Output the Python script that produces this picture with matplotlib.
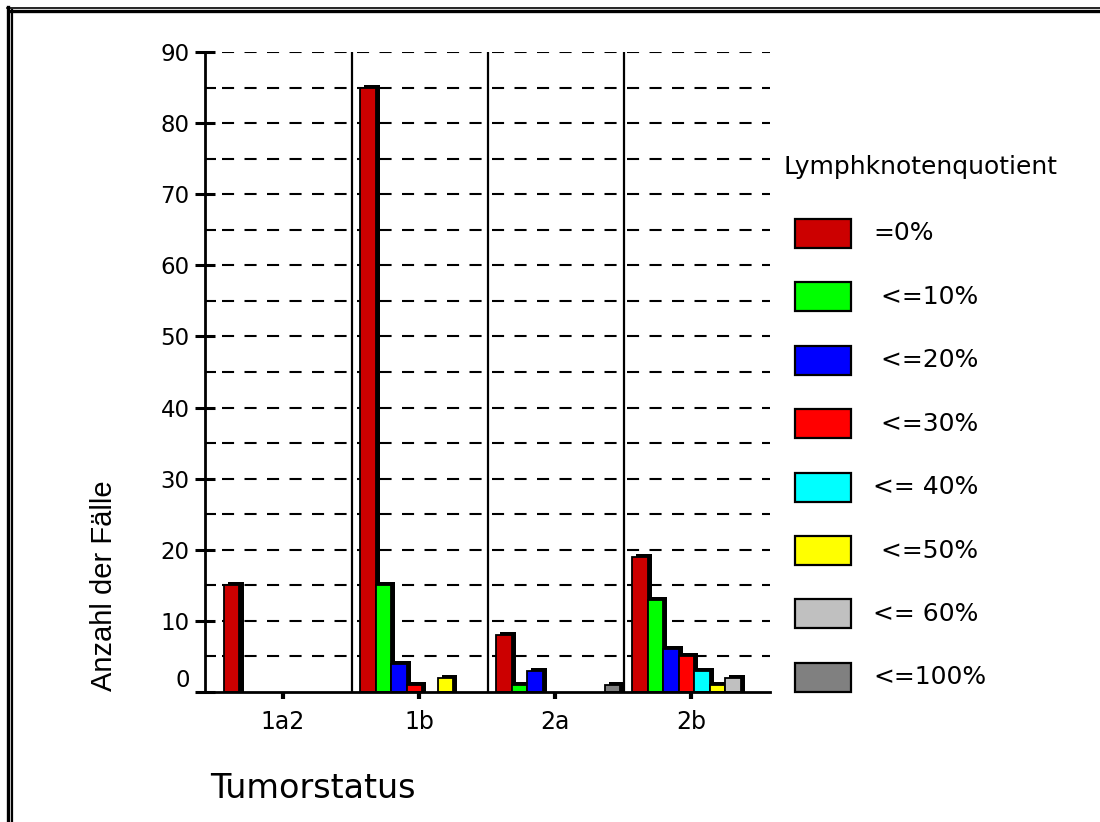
import matplotlib
matplotlib.use("Agg")
import matplotlib.pyplot as plt
from matplotlib.lines import Line2D
from matplotlib.patches import Rectangle
import numpy as np

# ---------------- data ----------------
categories = ["1a2", "1b", "2a", "2b"]
series_labels = ["=0%", " <=10%", " <=20%", " <=30%", "<= 40%", " <=50%", "<= 60%", "<=100%"]
series_colors = ["#CC0000", "#00FF00", "#0000FF", "#FF0000", "#00FFFF", "#FFFF00", "#C0C0C0", "#808080"]
v_0 = [15, 85, 8, 19]
v_10 = [0, 15, 1, 13]
v_20 = [0, 4, 3, 6]
v_30 = [0, 1, 0, 5]
v_40 = [0, 0, 0, 3]
v_50 = [0, 2, 0, 1]
v_60 = [0, 0, 0, 2]
v_100 = [0, 0, 1, 0]
series_values = [v_0, v_10, v_20, v_30, v_40, v_50, v_60, v_100]
yticks = [0, 10, 20, 30, 40, 50, 60, 70, 80, 90]

W, H = 1100, 822
fig = plt.figure(figsize=(11, 8.22), dpi=100)
fig.patch.set_facecolor("white")

ax = fig.add_axes([205 / W, (H - 692) / H, 565 / W, 640 / H])
ax.set_xlim(-0.0735, 4.08)
ax.set_ylim(0, 90)

# grid (dashed) every 5
for yv in np.arange(5, 91, 5):
    ax.axhline(yv, xmin=0.03, xmax=1, color="black", lw=1.5,
               dashes=(5.8, 5.0), zorder=1)

# group separators
for i in range(1, len(categories)):
    ax.axvline(i + 0.01, color="black", lw=1.6, zorder=1)

# bars with 3D-ish shadow
pitch = 0.114
off = 0.066
dx = 0.03
dy = 0.42
x0 = np.arange(len(categories))
for j, (vals, col) in enumerate(zip(series_values, series_colors)):
    vals = np.array(vals, dtype=float)
    xs = x0 + off + j * pitch
    sh = np.where(vals > 0, vals + dy, 0)
    ax.bar(xs + dx, sh, width=pitch, align="edge", color="black",
           linewidth=0, zorder=2 + 2 * j)
    ax.bar(xs, vals, width=pitch, align="edge", color=col,
           edgecolor=np.where(vals > 0, "black", "none").tolist(),
           linewidth=1.3, zorder=3 + 2 * j)

# spines
for s in ["top", "right"]:
    ax.spines[s].set_visible(False)
ax.spines["left"].set_linewidth(2)
ax.spines["bottom"].set_linewidth(2)
ax.spines["left"].set_zorder(30)
ax.spines["bottom"].set_zorder(30)

# ticks
ax.set_yticks(yticks)
ax.set_yticklabels([str(t) if t != 0 else "" for t in yticks],
                   fontsize=16.5, family="DejaVu Sans")
ax.set_yticks(np.arange(5, 90, 10), minor=True)
ax.tick_params(axis="y", which="major", direction="inout", length=14,
               width=2.2, pad=4)
ax.tick_params(axis="y", which="minor", direction="in", length=8, width=1.5)
ax.annotate(str(yticks[0]), xy=(0, 0), xycoords=("axes fraction", "data"),
            xytext=(-15, 12), textcoords="offset pixels", ha="right",
            va="center", fontsize=16.5, family="DejaVu Sans")

ax.set_xticks(x0 + 0.5)
ax.set_xticklabels(categories, fontsize=17, family="DejaVu Sans")
ax.tick_params(axis="x", which="major", direction="out", length=5,
               width=3, pad=8)

# axis titles
fig.text(104 / W, 1 - 586 / H, "Anzahl der Fälle", rotation=90,
         ha="center", va="center", fontsize=21,
         family=["Liberation Sans", "DejaVu Sans"])
fig.text(210 / W, 1 - 788 / H, "Tumorstatus", ha="left", va="center",
         fontsize=24, family="DejaVu Sans")

# legend (manual, figure coordinates)
fig.text(783 / W, 1 - 167 / H, "Lymphknotenquotient", ha="left", va="center",
         fontsize=18, family="DejaVu Sans")
for k, (lab, col) in enumerate(zip(series_labels, series_colors)):
    top = 219 + 63.4 * k
    fig.patches.append(Rectangle((795 / W, 1 - (top + 29) / H), 56 / W, 29 / H,
                                 transform=fig.transFigure, facecolor=col,
                                 edgecolor="black", linewidth=1.6))
    fig.text(873 / W, 1 - (top + 14.5) / H, lab, ha="left", va="center",
             fontsize=18, family="DejaVu Sans")

# double frame (top and left visible)
def fx(p):
    return p / W

def fy(p):
    return 1 - p / H

fig.lines.append(Line2D([fx(8), fx(8)], [fy(7), 0], transform=fig.transFigure,
                        color="black", lw=2.4))
fig.lines.append(Line2D([fx(11.5), fx(11.5)], [fy(10), 0], transform=fig.transFigure,
                        color="black", lw=1.6))
fig.lines.append(Line2D([fx(7), 1], [fy(8.5), fy(8.5)], transform=fig.transFigure,
                        color="black", lw=1.2))
fig.lines.append(Line2D([fx(10), 1], [fy(11.2), fy(11.2)], transform=fig.transFigure,
                        color="black", lw=2.4))

fig.savefig("out.png", dpi=100, facecolor="white")
